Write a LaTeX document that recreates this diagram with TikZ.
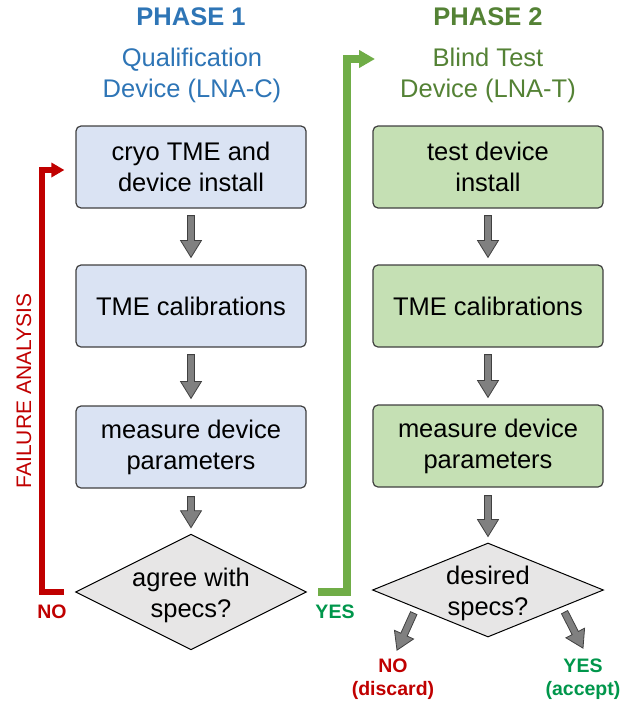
\documentclass[tikz,border=0pt]{standalone}
\usepackage{fontspec}
\setmainfont{Liberation Sans}
\usetikzlibrary{calc,shapes.geometric,arrows.meta}
\definecolor{phaseblue}{HTML}{2E75B6}
\definecolor{phasegreen}{HTML}{548235}
\definecolor{boxblue}{HTML}{DAE3F3}
\definecolor{boxgreen}{HTML}{C5E0B4}
\definecolor{diagray}{HTML}{E7E6E6}
\definecolor{failred}{HTML}{C00000}
\definecolor{passgreen}{HTML}{70AD47}
\definecolor{yesgreen}{HTML}{00964B}
\def\blockarrow(#1)(#2){\coordinate (bh) at ($(#2)!17pt!(#1)$);
	\draw[blockarrow] ($(#1)!3.5pt!90:(#2)$) -- ($(bh)!3.5pt!90:(#2)$) -- ($(bh)!10.5pt!90:(#2)$) -- (#2) -- ($(bh)!10.5pt!-90:(#2)$) -- ($(bh)!3.5pt!-90:(#2)$) -- ($(#1)!3.5pt!-90:(#2)$) -- cycle;}
\def\lowered#1{\raisebox{0pt}[\height][\dimexpr\depth-8pt\relax]{\begin{tabular}{@{}c@{}}#1\end{tabular}}}

\begin{document}
\begin{tikzpicture}[x=1pt,y=-1pt,
		every node/.style={font=\fontsize{25.5}{31}\selectfont, align=center},
		stepbox/.style={draw=black!75, line width=1.2pt, rounded corners=5pt, minimum width=230pt, minimum height=82pt, inner sep=0pt},
		decision/.style={diamond, draw=black, line width=1pt, fill=diagray, minimum width=231pt, minimum height=94pt, inner sep=-14pt},
		blockarrow/.style={fill=black!50, draw=black!75, line width=0.8pt, line join=miter},
		smalllabel/.style={font=\fontsize{19.5}{23}\selectfont\bfseries}]
			%%%%% START %%%%%
			
			\useasboundingbox (0,0) rectangle (642,707);
			
			\node[font=\fontsize{25.5}{31}\selectfont\bfseries, text=phaseblue] (phase1) at (191,17) {PHASE 1};
			\node[text=phaseblue] (sub1) at (192,75) {Qualification\\Device (LNA-C)};
			\node[font=\fontsize{25.5}{31}\selectfont\bfseries, text=phasegreen] (phase2) at (488,17) {PHASE 2};
			\node[text=phasegreen] (sub2) at (488,75) {Blind Test\\Device (LNA-T)};
			
			\node[stepbox, fill=boxblue] (b1) at (191,167) {cryo TME and\\device install};
			\node[stepbox, fill=boxblue] (b2) at (191,306) {TME calibrations};
			\node[stepbox, fill=boxblue] (b3) at (191,447) {measure device\\parameters};
			\node[decision] (d1) at (191,592) {\lowered{agree with\\specs?}};
			
			\node[stepbox, fill=boxgreen] (r1) at (488,167) {test device\\install};
			\node[stepbox, fill=boxgreen] (r2) at (488,306) {TME calibrations};
			\node[stepbox, fill=boxgreen] (r3) at (488,446) {measure device\\parameters};
			\node[decision] (d2) at (488,590) {\lowered{desired\\specs?}};
			
			\blockarrow([yshift=-7pt]b1.south)([yshift=7pt]b2.north)
			\blockarrow([yshift=-7pt]b2.south)([yshift=7pt]b3.north)
			\blockarrow([yshift=-8pt]b3.south)([yshift=6pt]d1.north)
			\blockarrow([yshift=-7pt]r1.south)([yshift=7pt]r2.north)
			\blockarrow([yshift=-7pt]r2.south)([yshift=7pt]r3.north)
			\blockarrow([yshift=-8pt]r3.south)([yshift=6pt]d2.north)
			
			% failure loop
			\draw[line width=6pt, failred, -{Triangle[length=13pt,width=14pt]}] ([xshift=-11pt]d1.west) -- ++(-22pt,0) |- ([shift={(-11pt,-3pt)}]b1.west);
			\node[font=\fontsize{21}{25}\selectfont, text=failred, rotate=90] (fail) at (24,391) {FAILURE ANALYSIS};
			\node[smalllabel, text=failred] (no1) at (52,612) {NO};
			
			% pass on to phase 2
			\coordinate (gtip) at (375,59);
			\draw[line width=7.5pt, passgreen, -{Triangle[length=16pt,width=17pt]}] ([xshift=11pt]d1.east) -- ++(29pt,0) |- (gtip);
			\node[smalllabel, text=yesgreen] (yes1) at (335,612) {YES};
			
			\node[smalllabel, text=failred] (no2) at (393,679) {NO\\(discard)};
			\node[smalllabel, text=yesgreen] (yes2) at (583,679) {YES\\(accept)};
			\blockarrow([yshift=-6pt]$(d2.west)!0.36!(d2.south)$)([shift={(4pt,5pt)}]no2.north)
			\blockarrow([yshift=-6pt]$(d2.east)!0.34!(d2.south)$)([yshift=7pt]yes2.north)
			
			%%%%% END %%%%%
\end{tikzpicture}
\end{document}
